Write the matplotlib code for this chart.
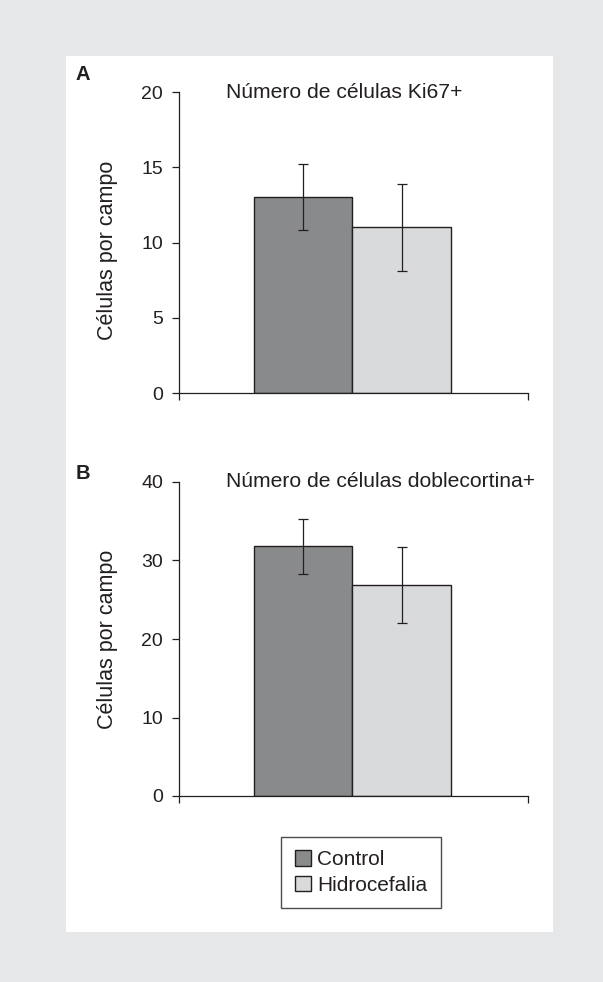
import numpy as np
import matplotlib
matplotlib.use('Agg')
import matplotlib.pyplot as plt
from matplotlib.patches import Rectangle

plt.rcParams['font.family'] = ['Liberation Sans', 'DejaVu Sans']

## data
groups = ['Control', 'Hidrocefalia']
ki67 = [13.0, 11.0]
ki67_err = [2.2, 2.9]
dcx = [31.8, 26.9]
dcx_err = [3.55, 4.8]

titles = ['Número de células Ki67+', 'Número de células doblecortina+']
letters = ['A', 'B']
ylims = [20, 40]
ysteps = [5, 10]
ylabel = 'Células por campo'

colors = ['#898a8c', '#d9dadc']
edge = '#231f20'

## figure
W, H = 603, 982
fig = plt.figure(figsize=(W / 100, H / 100), dpi=100)
fig.patch.set_facecolor('#e6e7e8')
fig.patches.append(Rectangle((66 / W, 1 - 932 / H), (553 - 66) / W, (932 - 56) / H,
                             transform=fig.transFigure, facecolor='white',
                             edgecolor='none', zorder=-5))

# axes boxes in pixels: (left, right, top, bottom)
boxes = [(179, 528, 92, 393), (179, 528, 482, 796)]
letter_y = [74, 473]
ylab_y = [0.473, 0.499]

bw = 0.282
xc = 0.497
handles = []
for i, (vals, errs) in enumerate([(ki67, ki67_err), (dcx, dcx_err)]):
    l, r, t, b = boxes[i]
    ax = fig.add_axes([l / W, 1 - b / H, (r - l) / W, (b - t) / H])
    ax.set_facecolor('none')
    xs = [xc - bw / 2, xc + bw / 2]
    for j in range(2):
        h = ax.bar(xs[j], vals[j], width=bw, color=colors[j], edgecolor=edge,
                   linewidth=1.0, label=groups[j], zorder=2)
        if i == 0:
            handles.append(h)
        ax.errorbar(xs[j], vals[j], yerr=errs[j], fmt='none', ecolor=edge,
                    elinewidth=0.9, capsize=3.8, capthick=0.9, zorder=3)
    ax.set_xlim(0, 1)
    ax.set_ylim(0, ylims[i])
    ax.set_yticks(np.arange(0, ylims[i] + 1, ysteps[i]))
    ax.set_xticks([0, 1])
    ax.set_xticklabels([])
    ax.spines['top'].set_visible(False)
    ax.spines['right'].set_visible(False)
    for s in ['left', 'bottom']:
        ax.spines[s].set_linewidth(0.9)
        ax.spines[s].set_color(edge)
    ax.tick_params(axis='y', direction='out', length=5, width=0.9, pad=6.5,
                   labelsize=14, colors=edge)
    ax.tick_params(axis='x', direction='out', length=5, width=0.9, colors=edge)
    ax.text(0.135, 1.0, titles[i], transform=ax.transAxes, ha='left', va='center',
            fontsize=15.2, color=edge)
    ax.text(-0.206, ylab_y[i], ylabel, transform=ax.transAxes, rotation=90,
            ha='center', va='center', fontsize=15.5, color=edge)
    fig.text(83 / W, 1 - letter_y[i] / H, letters[i], ha='center', va='center',
             fontsize=14.5, fontweight='bold', color=edge)

leg = fig.legend(handles=handles, labels=groups, loc='center',
                 bbox_to_anchor=(361 / W, 1 - 872.5 / H), fontsize=15,
                 frameon=True, fancybox=False, handlelength=0.75, handleheight=0.75,
                 handletextpad=0.3, borderpad=0.65, labelspacing=0.3)
leg.get_frame().set_edgecolor(edge)
leg.get_frame().set_linewidth(1.0)
for t in leg.get_texts():
    t.set_color(edge)

fig.savefig('out.png', dpi=100, facecolor=fig.get_facecolor())
